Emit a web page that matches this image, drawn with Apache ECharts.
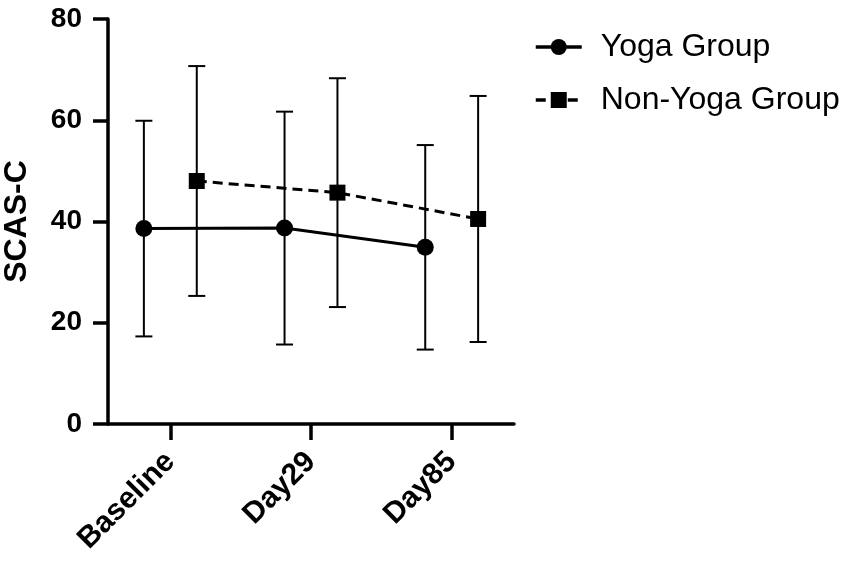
<!DOCTYPE html>
<html>
<head>
<meta charset="utf-8">
<script src="https://cdn.jsdelivr.net/npm/echarts@6/dist/echarts.min.js"></script>
<style>
  html, body { margin: 0; padding: 0; background: #fff; }
  #chart { width: 851px; height: 563px; }
</style>
</head>
<body>
<div id="chart"></div>
<script>
const categories = ["Baseline", "Day29", "Day85"];
const yogaMean = [38.6, 38.7, 34.9];
const yogaSD = [21.3, 23.0, 20.2];
const nonYogaMean = [48.0, 45.7, 40.5];
const nonYogaSD = [22.7, 22.6, 24.3];
const yTicks = [0, 20, 40, 60, 80];

// groups sit either side of each category tick
const OFFSET = 0.188;
const FONT = "Liberation Sans, Arial, Helvetica, sans-serif";

function points(means, shift) {
  return means.map((v, i) => [i + shift, v]);
}
function bars(means, sds, shift) {
  return means.map((v, i) => [i + shift, v - sds[i], v + sds[i]]);
}

function errorBar(params, api) {
  const x = api.value(0);
  const lo = api.coord([x, api.value(1)]);
  const hi = api.coord([x, api.value(2)]);
  const half = 8.5;
  const style = { stroke: "#000", lineWidth: 2 };
  return {
    type: "group",
    children: [
      { type: "line", shape: { x1: lo[0], y1: lo[1], x2: hi[0], y2: hi[1] }, style },
      { type: "line", shape: { x1: lo[0] - half, y1: lo[1], x2: lo[0] + half, y2: lo[1] }, style },
      { type: "line", shape: { x1: hi[0] - half, y1: hi[1], x2: hi[0] + half, y2: hi[1] }, style },
    ],
  };
}

const chart = echarts.init(document.getElementById("chart"), null, { renderer: "canvas" });
chart.setOption({
  animation: false,
  textStyle: { fontFamily: FONT },
  grid: { left: 108, right: 337, top: 19, bottom: 139 },
  legend: {
    data: ["Yoga Group", "Non-Yoga Group"],
    orient: "vertical",
    left: 529,
    top: 26,
    itemWidth: 46,
    itemHeight: 20,
    itemGap: 21,
    lineStyle: { width: 3.5 },
    textStyle: { fontSize: 32, color: "#000", fontFamily: FONT, padding: [0, 0, 0, 14] },
  },
  xAxis: {
    type: "value",
    min: -0.443,
    max: 2.443,
    splitLine: { show: false },
    axisLine: { onZero: false, lineStyle: { color: "#000", width: 3.5 } },
    axisTick: { customValues: [0, 1, 2], length: 16, lineStyle: { color: "#000", width: 3.5 } },
    axisLabel: {
      customValues: [0, 1, 2],
      formatter: (v) => categories[Math.round(v)],
      rotate: 45,
      margin: 33,
      fontSize: 30,
      fontWeight: "bold",
      color: "#000",
      fontFamily: FONT,
    },
  },
  yAxis: {
    type: "value",
    min: 0,
    max: 80,
    interval: 20,
    name: "SCAS-C",
    nameLocation: "middle",
    nameGap: 75,
    nameTextStyle: { fontSize: 32, fontWeight: "bold", color: "#000", fontFamily: FONT },
    splitLine: { show: false },
    axisLine: { show: true, onZero: false, lineStyle: { color: "#000", width: 3.5 } },
    axisTick: { show: true, length: 15, lineStyle: { color: "#000", width: 3.5 } },
    axisLabel: {
      formatter: (v) => (yTicks.includes(v) ? String(v) : ""),
      margin: 26,
      fontSize: 28,
      fontWeight: "bold",
      color: "#000",
      fontFamily: FONT,
    },
  },
  series: [
    {
      name: "Yoga Group",
      type: "line",
      data: points(yogaMean, -OFFSET),
      symbol: "circle",
      symbolSize: 17,
      itemStyle: { color: "#000" },
      lineStyle: { color: "#000", width: 3 },
      z: 5,
    },
    {
      name: "Non-Yoga Group",
      type: "line",
      data: points(nonYogaMean, OFFSET),
      symbol: "rect",
      symbolSize: 16,
      itemStyle: { color: "#000" },
      lineStyle: { color: "#000", width: 3, type: [10, 6] },
      z: 5,
    },
    {
      type: "custom",
      renderItem: errorBar,
      data: bars(yogaMean, yogaSD, -OFFSET),
      encode: { x: 0, y: [1, 2] },
      z: 3,
    },
    {
      type: "custom",
      renderItem: errorBar,
      data: bars(nonYogaMean, nonYogaSD, OFFSET),
      encode: { x: 0, y: [1, 2] },
      z: 3,
    },
  ],
});
</script>
</body>
</html>
